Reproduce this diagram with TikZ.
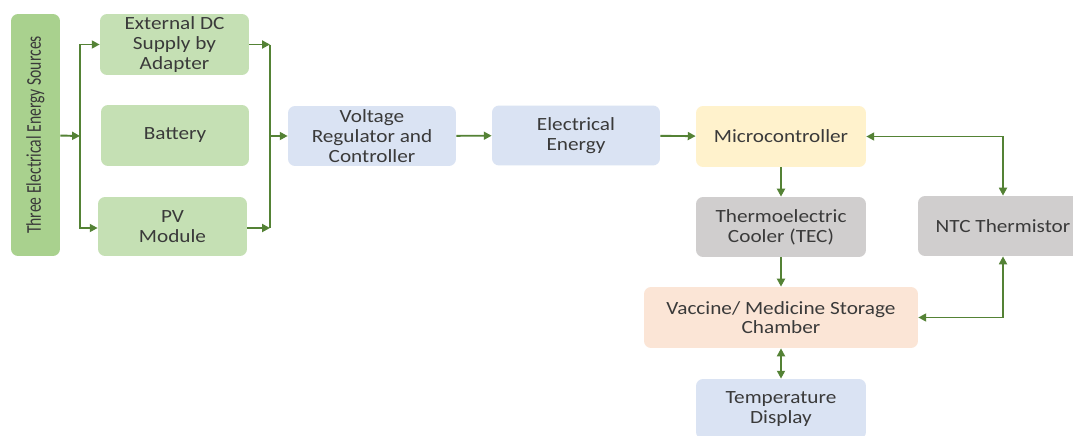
\documentclass[tikz,border=0pt]{standalone}
\usepackage{fontspec}
\setmainfont{Carlito}[FakeStretch=1.14]
\newfontfamily\plainfont{Carlito}
\usepackage{tikz}
\usetikzlibrary{arrows.meta, positioning, calc}
\definecolor{kdgreen}{HTML}{A9D18E}
\definecolor{klgreen}{HTML}{C5E0B4}
\definecolor{kblue}{HTML}{DAE3F3}
\definecolor{kyellow}{HTML}{FFF2CC}
\definecolor{kgrey}{HTML}{D0CECE}
\definecolor{kpeach}{HTML}{FBE5D6}
\definecolor{karrow}{HTML}{548235}
\definecolor{ktext}{HTML}{3A3A3A}
\tikzset{
  blockbox/.style={rounded corners=4pt, align=center, inner sep=0pt,
    font=\fontsize{10.6}{11.2}\selectfont, text=ktext},
  flow/.style={draw=karrow, line width=1.1pt, -{Triangle[length=4.5pt,width=4.5pt]}},
  flowboth/.style={draw=karrow, line width=1.1pt,
    {Triangle[length=4.5pt,width=4.5pt]}-{Triangle[length=4.5pt,width=4.5pt]}},
  busline/.style={draw=karrow, line width=1.1pt}
}

\begin{document}
\begin{tikzpicture}[x=0.02cm, y=-0.02cm]
\useasboundingbox (0,0) rectangle (1073,436);
\fill[white] (0,0) rectangle (1073,436);
% sources and the three supplies
\node[blockbox, fill=kdgreen, minimum width=0.98cm, minimum height=4.84cm,
  font=\plainfont\fontsize{9.2}{10}\selectfont] (src) at (35.5,135) {\rotatebox{90}{\scalebox{0.97}[1.3]{Three Electrical Energy Sources}}};
\node[blockbox, fill=klgreen, minimum width=2.98cm, minimum height=1.22cm] (ext) at (174.5,44.5) {External DC\\Supply by\\Adapter};
\node[blockbox, fill=klgreen, minimum width=2.96cm, minimum height=1.22cm] (bat) at (175,135.5) {Battery};
\node[blockbox, fill=klgreen, minimum width=2.98cm, minimum height=1.18cm] (pv) at (172.5,226.5) {PV\\Module};
% main chain
\node[blockbox, fill=kblue, minimum width=3.36cm, minimum height=1.2cm] (vrc) at (372,136) {Voltage\\Regulator and\\Controller};
\node[blockbox, fill=kblue, minimum width=3.36cm, minimum height=1.2cm] (ele) at (576,135.5) {Electrical\\Energy};
\node[blockbox, fill=kyellow, minimum width=3.4cm, minimum height=1.22cm] (mcu) at (781,136.5) {Microcontroller};
\node[blockbox, fill=kgrey, minimum width=3.4cm, minimum height=1.2cm] (tec) at (781,227) {Thermoelectric\\Cooler (TEC)};
\node[blockbox, fill=kgrey, minimum width=3.4cm, minimum height=1.2cm] (ntc) at (1003,226) {NTC Thermistor};
\node[blockbox, fill=kpeach, minimum width=5.48cm, minimum height=1.22cm] (vac) at (781,317.5) {Vaccine/ Medicine Storage\\Chamber};
\node[blockbox, fill=kblue, minimum width=3.4cm, minimum height=1.2cm] (tdisp) at (781,409) {Temperature\\Display};
% buses
\coordinate (busL) at (80,136);
\coordinate (busR) at (270,136);
\draw[flow] (src) -- (busL);
\draw[busline] (busL |- ext) -- (busL |- pv.west);
\draw[flow] (busL) |- (ext);
\draw[flow] (busL) |- ($(pv.west)+(0,1.5)$);
\draw[flow] (ext) -- (ext -| busR);
\draw[flow] ($(pv.east)+(0,1.5)$) -- ($(pv.east -| busR)+(0,1.5)$);
\draw[busline] (busR |- ext) -- ($(busR |- pv.east)+(0,1.5)$);
\draw[flow] (busR) -- (vrc);
\draw[flow] (vrc) -- (ele);
\draw[flow] (ele) -- (mcu);
\draw[flow] (mcu) -- (tec);
\draw[flow] (tec) -- (vac);
\draw[flowboth] (vac) -- (tdisp);
\draw[flowboth] (mcu) -| (ntc);
\draw[flowboth] (ntc) |- (vac);
\end{tikzpicture}
\end{document}
